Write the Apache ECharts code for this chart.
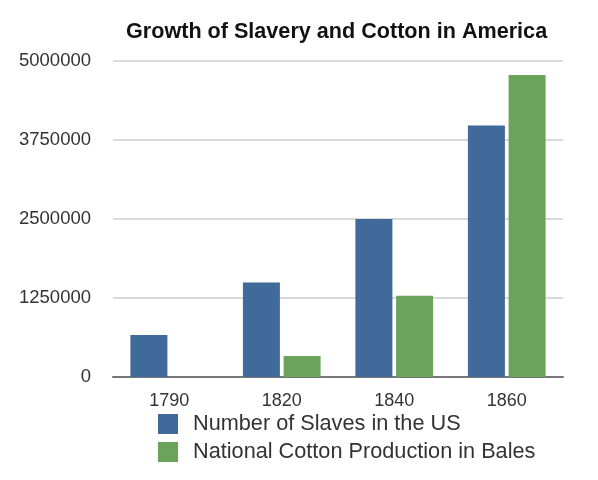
<!DOCTYPE html>
<html>
<head>
<meta charset="utf-8">
<script src="https://cdn.jsdelivr.net/npm/echarts@6/dist/echarts.min.js"></script>
<style>html,body{margin:0;padding:0;background:#fff}#c{width:598px;height:480px}</style>
</head>
<body>
<div id="c"></div>
<script>
const categories = ['1790', '1820', '1840', '1860'];
const slaves = [665000, 1495000, 2500000, 3980000];
const cotton = [0, 332000, 1285000, 4780000];
const seriesNames = ['Number of Slaves in the US', 'National Cotton Production in Bales'];
const yTicks = { min: 0, max: 5000000, interval: 1250000 };

const FONT = '"Liberation Sans", Arial, Helvetica, sans-serif';
const chart = echarts.init(document.getElementById('c'), null, { renderer: 'canvas' });
chart.setOption({
  animation: false,
  backgroundColor: '#ffffff',
  title: {
    text: 'Growth of Slavery and Cotton in America',
    left: 121, top: 16,
    textStyle: { fontFamily: FONT, fontSize: 21.6, fontWeight: 'bold', color: '#111' }
  },
  legend: {
    orient: 'vertical', left: 153, top: 408,
    itemWidth: 20, itemHeight: 20, itemGap: 6,
    icon: 'rect',
    textStyle: { fontFamily: FONT, fontSize: 21.7, color: '#333', padding: [0, 0, 0, 10] },
    data: seriesNames
  },
  grid: { left: 113, right: 35, top: 61, bottom: 103, containLabel: false },
  xAxis: {
    type: 'category', data: categories,
    axisLine: { lineStyle: { color: '#777', width: 2 } },
    axisTick: { show: false },
    axisLabel: { fontFamily: FONT, fontSize: 18, color: '#333', margin: 15 }
  },
  yAxis: {
    type: 'value', min: yTicks.min, max: yTicks.max, interval: yTicks.interval,
    axisLine: { show: false }, axisTick: { show: false },
    splitLine: { lineStyle: { color: '#dadada', width: 2 } },
    axisLabel: { fontFamily: FONT, fontSize: 18.5, color: '#333', margin: 22, formatter: v => String(v) }
  },
  series: [
    { name: seriesNames[0], type: 'bar', data: slaves, barWidth: 37, barGap: '10%',
      itemStyle: { color: '#3f6a9a' } },
    { name: seriesNames[1], type: 'bar', data: cotton, barWidth: 37,
      itemStyle: { color: '#6aa45a' } }
  ]
});
</script>
</body>
</html>
